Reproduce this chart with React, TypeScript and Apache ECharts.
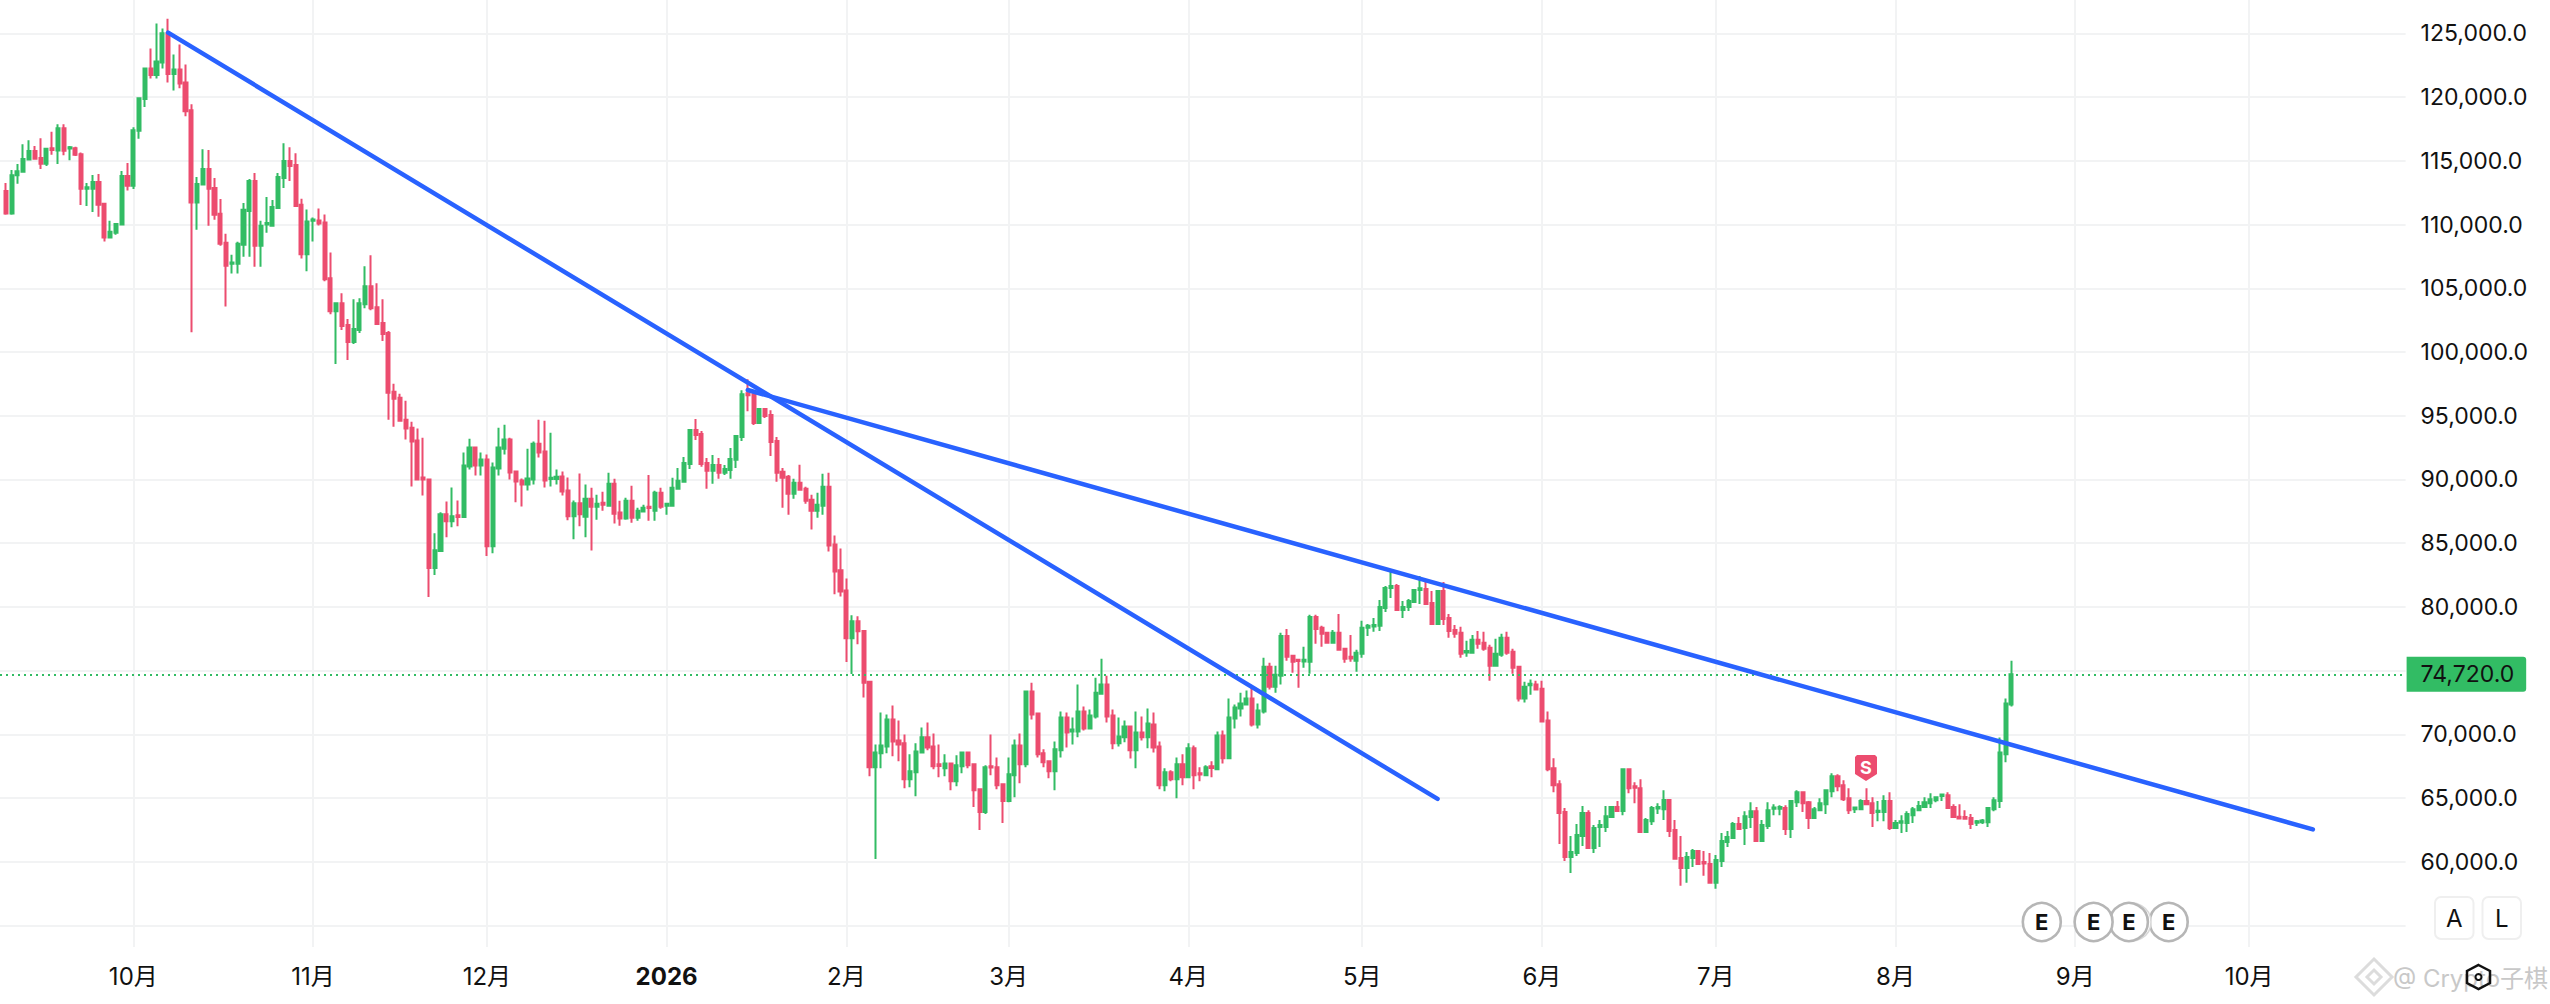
import React, { useEffect, useRef } from "react";
import * as echarts from "echarts";

// Rows are [open, close, low, high]; the first row is 2025-09-09.
const sep2025 = [
[112630,110860,110760,113260],[110860,113860,110760,114270],[113860,114170,113200,114740],[114140,115130,114140,116300],[115110,115760,115110,116620],
[115760,115160,115160,116150],[115210,114770,114350,116770],[114770,115940,114590,115990],[115990,115840,115470,117270],[115810,117550,114740,117870],
[117550,115780,115440,117870],[115970,116070,115050,116150],[115990,115470,115370,116100],[115520,112810,111540,115650],[112810,112920,111460,113260],
[112810,113330,110990,113880],[113330,111560,110600,113960],[111620,108990,108670,111620],[108990,109430,108990,110290],[109350,110050,109190,110050],
[110000,113800,110000,114190],[113800,113050,112660,114820],
];
const oct2025 = [
[113050,117400,112790,117630],[117350,119900,116720,119900],[119840,122240,119220,122320],[122240,121720,121460,123800],[121720,122790,121460,125760],
[122710,125000,122240,125370],[125000,121800,121150,126150],[121800,122160,120520,123330],[122160,121070,120680,124120],[121150,118880,118490,122550],
[118960,111720,101540,119430],[111720,113180,109590,113730],[113130,114350,113130,115910],[114350,112810,109900,115840],[112870,110760,110370,113650],
[110840,108490,108340,112010],[108570,106770,103570,109270],[106930,107030,106150,107630],[106930,108490,106150,108650],[108410,111150,107480,111690],
[111070,113410,107480,113570],[113410,108340,106690,114040],[108340,109900,106690,110290],[110000,110110,109350,112160],[109900,111380,109820,111930],
[111300,113730,111230,114040],[113650,114980,112870,116380],[114980,114590,113410,116070],[114660,111460,111380,115600],[111560,107660,107340,112030],
[107660,110230,106330,111170],
];
const nov2025 = [
[110290,110390,108670,110550],[110310,110080,109920,111250],[110160,105700,105550,110780],[105780,103200,102970,107810],[103200,103830,99060,103910],
[103830,102030,101720,104610],[102110,100780,99380,102580],[100780,101800,100630,104140],[101720,103830,101490,104220],[103750,105160,103440,106720],
[105160,103440,103280,107580],[103520,102190,102110,105390],[102270,101410,100860,104140],[101490,96800,94690,101640],[96880,96330,94140,97500],
[96410,94610,94530,96720],[94690,93990,93130,96170],[94060,92970,89450,94530],[93050,90000,90000,93990],[90160,90000,88750,93280],
[90000,83050,80780,90080],[83050,84450,82500,85780],[84380,87270,84380,87420],[87270,86720,85470,88280],[86720,87110,86250,89380],
[87190,87060,86330,88360],[87060,91100,87060,92110],[91020,92500,90780,93200],[92500,91100,90310,92500],[91100,91560,90310,92110],
];
const dec2025 = [
[91560,84770,83990,91950],[84770,90940,84220,91330],[90860,92500,90310,94060],[92420,93130,91950,94300],[93130,90550,90000,93280],
[90630,89850,88210,90630],[89920,89610,87890,90080],[89610,90080,89140,92420],[90000,92810,89610,92970],[92810,92110,91720,94690],
[92190,89920,89380,94610],[90030,90130,89450,93670],[90030,90210,89610,90780],[90240,89060,88750,90630],[89140,87110,86800,90160],
[87110,88130,85310,88360],[88130,87270,86330,90470],[87080,88490,85470,89610],[88490,87860,84430,89350],[87860,88100,86850,88800],
[88180,88020,87550,89040],[87940,89660,87860,90520],[89660,87320,86540,90050],[87400,86930,86380,88340],[86930,88340,86850,88570],
[88340,87000,86610,89500],[87000,87550,86770,87790],[87480,87790,87400,88020],[87860,87760,86770,90360],[87550,88960,86770,89110],
[88960,87860,87710,89350],
];
const jan2026 = [
[87940,88100,87240,88100],[87940,89350,87860,90130],[89270,89900,89190,90910],[89820,91300,89820,91770],[91220,93880,90830,93960],
[93880,93490,93100,94740],[93570,91220,90990,93800],[91300,90680,89270,91690],[90680,91140,89660,91930],[91140,90520,90050,91690],
[90520,90830,90360,91140],[90750,91610,90050,92470],[91540,93410,90910,93410],[93330,96690,93020,97000],[96770,96610,95360,97860],
[96690,94430,94270,97000],[94430,95520,94430,95600],[95520,94970,94820,95520],[95050,92940,91850,95440],[93020,90520,89820,93330],
[90600,90130,87790,90910],[90210,88880,87240,90360],[88880,89740,88490,90050],[89740,89190,89110,91150],[89270,88340,88100,89430],
[88410,87550,86070,88800],[87550,88020,87000,88960],[87940,89430,87240,90440],[89430,84820,84350,90520],[84900,82790,80990,85600],
[82870,81220,80830,84580],
];
const feb2026 = [
[81300,77550,75680,82240],[77550,78880,74740,79350],[78880,78100,77080,79270],[78120,74060,72890,78180],[74140,67420,66720,74220],
[67420,68590,60230,69220],[68520,69140,67340,71720],[69060,71170,68520,71560],[71170,69450,68280,72270],[69530,69220,67890,71090],
[69300,66480,65780,70000],[66480,67110,65860,68440],[67030,68670,65160,69300],[68590,69770,68520,70550],[69770,68980,68750,70940],
[69060,67500,67270,70080],[67660,67530,66640,69220],[67340,67730,66720,68440],[67730,66330,65630,67730],[66330,67580,65940,68360],
[67500,68590,66950,68670],[68590,67580,67340,68670],[67660,65630,64300,67730],[65700,63910,62500,65700],[63910,67420,63750,67580],
[67500,67400,66800,70000],[67420,66020,65700,68200],[66100,64770,63050,66170],
];
const mar2026 = [
[64770,66880,64690,68200],[66800,69140,65080,69610],[69140,67660,66170,70080],[67660,73360,67420,73440],[73360,71560,71170,74060],
[71640,68440,68200,71640],[68520,67810,67420,68830],[67890,67110,66560,67890],[67110,68830,65630,69450],[68750,71330,68200,71800],
[71330,70160,68980,71720],[70230,70390,69220,71330],[70230,71800,69770,73910],[71800,70470,70310,72190],[70470,71480,70470,71950],
[71410,73280,71250,74450],[73200,73910,73120,75940],[73910,71410,70940,74610],[71480,69300,68830,71950],[69300,69840,69060,71330],
[69770,70620,69380,71090],[70620,68750,68120,70620],[68750,70160,67340,71800],[70160,69770,69530,71410],[69770,70860,68910,72030],
[70780,68980,68590,71720],[69060,66020,65700,69450],[66020,67030,65550,67340],[67030,66480,66330,67190],[66480,67660,65000,68200],
[67660,66640,66020,68440],
];
const apr2026 = [
[66640,68910,66640,69300],[68910,66800,65700,69140],[66950,66850,66330,67420],[66800,67420,66800,67580],[67500,67370,66640,67890],
[67270,69920,67190,70230],[69920,68130,67730,70310],[68130,71330,68050,72810],[71250,72110,70470,72340],[72030,72420,71410,73280],
[72340,72810,72340,73440],[72810,70780,70630,73750],[70780,71870,70470,72420],[71800,75310,71640,76020],[75310,73750,73520,75620],
[73750,74690,73280,75390],[74610,77730,73910,77970],[77730,76090,75780,78280],[76170,75700,74840,76250],[75860,75760,73670,75860],
[75730,75860,75230,76880],[75700,79220,74770,79380],[79220,78280,77110,79380],[78360,77890,76880,78520],[77970,77190,77190,77970],
[77190,77970,77110,78200],[77970,76640,76560,79450],[76720,75940,75620,76720],[76090,75960,75700,77810],[75780,76410,74920,76640],
];
const may2026 = [
[76330,78360,76020,78910],[78360,78520,77730,78670],[78460,78590,78050,79140],[78520,80000,78120,80550],[79920,81480,79610,81640],
[81480,81640,80700,82810],[81640,79760,79690,81800],[79760,80000,79140,80470],[80000,80470,79690,80620],[80390,81330,80390,81410],
[81330,81460,80230,82420],[81410,80230,80150,82030],[80310,78670,78670,81250],[78670,81250,78670,81250],[81250,79060,78590,81950],
[79140,78120,77580,79450],[78200,77890,77580,78590],[77970,76330,76020,78440],[76430,76540,76090,77340],[76400,77420,76400,77810],
[77420,77110,76720,78120],[77190,76720,76560,78050],[76800,75390,74220,77030],[75390,76330,75310,77500],[76250,77580,76090,77890],
[77580,76400,76250,78050],[76480,75230,74770,76720],[75310,72810,72580,75390],[72810,73750,72500,74140],[73850,73980,73120,74300],
[73910,73520,73520,74220],
];
const jun2026 = [
[73590,71020,71020,74220],[71100,67270,67110,71800],[67340,66020,65470,68130],[66090,63830,61410,66410],[63910,60390,60080,64220],
[60390,60780,59140,62030],[60700,62110,60470,62970],[62030,63830,61250,64380],[63830,61090,61090,64060],[61090,62660,60700,62890],
[62740,62890,61170,63280],[62740,63590,62340,64380],[63520,64300,63440,64380],[64300,63990,63910,64770],[63990,67270,63670,67340],
[67270,65780,65390,67270],[65940,65810,64610,66250],[65780,62340,62340,66480],[62340,63280,62260,63440],[63200,64220,62890,64380],
[64190,64300,63750,64610],[64140,64850,63280,65620],[64850,62420,61950,64920],[62500,60240,60240,63280],[60310,59530,58130,62030],
[59530,60390,58360,60780],[60310,60860,59610,61020],[60860,59840,59770,60860],[60000,59870,58910,60860],[59840,58360,58280,60700],
];
const jul2026 = [
[58360,60160,57890,60550],[60080,61640,59610,62270],[61560,61950,61170,62420],[61870,62970,61870,63130],[62970,62580,62500,63520],
[62660,63590,61330,63980],[63520,63980,62660,64690],[63980,61640,61560,64300],[61640,62890,61640,63280],[62810,64060,62580,64690],
[64170,64270,63670,64530],[64170,64300,63670,64450],[64220,62580,62110,64450],[62580,64770,61870,64840],[64690,65470,64300,65620],
[65470,64610,63910,65470],[64690,63440,62580,64770],[63440,64140,63360,64300],[64060,64610,64060,65000],[64530,65620,63750,65700],
[65550,66720,65080,66950],[66720,65940,65550,66870],[66020,64920,64770,66410],[65000,64060,63750,65780],[64140,64270,63830,64300],
[64140,64770,64140,64920],[64770,64530,64450,65780],[64610,63830,62730,65080],[63910,64010,63200,64770],[63910,64770,63200,65230],
[64770,62660,62500,65470],
];
const aug2026 = [
[62660,63050,62660,63280],[63070,63200,62260,63670],[63050,63750,62340,63980],[63670,64140,63050,64300],[64060,64380,63980,64770],
[64300,64690,64300,65080],[64610,64920,64220,65390],[64840,65080,64690,65160],[65180,65290,64770,65310],[65230,64220,64220,65470],
[64300,63520,63440,64530],[63540,63410,63360,64530],[63520,63380,63360,64060],[63440,62970,62580,63750],[63070,63200,62810,63280],
[63120,63250,62970,63360],[63120,64220,62730,64220],[64140,64840,63980,65080],[64770,68590,64220,69760],[68440,72420,67810,72810],
[72340,74720,72190,75780],
];

const lastPrice = 74720;
const firstDay = "2025-09-08";
const dayCount = 416;
const priceGridValues = [55000, 60000, 65000, 70000, 75000, 80000, 85000, 90000, 95000, 100000, 105000, 110000, 115000, 120000, 125000];
const priceLabelValues = [60000, 65000, 70000, 75000, 80000, 85000, 90000, 95000, 100000, 105000, 110000, 115000, 120000, 125000];
const monthLabels: Record<string, string> = {
  "2025-10-01": "10月", "2025-11-01": "11月", "2025-12-01": "12月", "2026-01-01": "2026",
  "2026-02-01": "2月", "2026-03-01": "3月", "2026-04-01": "4月", "2026-05-01": "5月",
  "2026-06-01": "6月", "2026-07-01": "7月", "2026-08-01": "8月", "2026-09-01": "9月", "2026-10-01": "10月",
};
const trendOne: [string, number][] = [["2025-10-07", 125050], ["2026-05-14", 64940]];
const trendTwo: [string, number][] = [["2026-01-15", 97020], ["2026-10-12", 62550]];
const earningsCentres = [2041.8, 2093.6, 2128.9, 2168.7];

const GREEN = "#32BC64";
const RED = "#EC4C6F";
const BLUE = "#2962FF";
const FONT = 'Inter, "Noto Sans CJK SC", sans-serif';

const days: string[] = [];
for (let i = 0; i < dayCount; i++) {
  const d = new Date(Date.parse(firstDay + "T00:00:00Z") + i * 86400000);
  days.push(d.toISOString().slice(0, 10));
}
const rows = [...sep2025, ...oct2025, ...nov2025, ...dec2025, ...jan2026, ...feb2026, ...mar2026, ...apr2026, ...may2026, ...jun2026, ...jul2026, ...aug2026];
const candleData: any[] = days.map((_, i) => (i >= 1 && i <= rows.length ? rows[i - 1] : "-"));
const isMonthTick = (_: number, v: string) => v in monthLabels;

function earnings(cx: number) {
  return [
    { type: "circle", shape: { cx, cy: 922, r: 19 }, style: { fill: "#fff", stroke: "#b6b6b6", lineWidth: 2.6 }, z: 50 },
    { type: "text", x: cx, y: 922, style: { text: "E", fill: "#111", font: `bold 22px ${FONT}`, align: "center", verticalAlign: "middle" }, z: 51 },
  ];
}
function button(x: number, label: string) {
  return [
    { type: "rect", shape: { x, y: 897, width: 38.5, height: 42, r: 6 }, style: { fill: "#fff", stroke: "#efefef", lineWidth: 2 }, z: 50 },
    { type: "text", x: x + 19.2, y: 918, style: { text: label, fill: "#111", font: `24px ${FONT}`, align: "center", verticalAlign: "middle" }, z: 51 },
  ];
}

export default function App() {
  const ref = useRef<HTMLDivElement>(null);
  useEffect(() => {
    const chart = echarts.init(ref.current!, null, { renderer: "svg" });
    chart.setOption({
      animation: false,
      backgroundColor: "#fff",
      grid: { left: -3.5, top: 0, width: 2409.1, height: 947 },
      xAxis: {
        type: "category",
        data: days,
        boundaryGap: false,
        axisLine: { show: false },
        axisTick: { show: false },
        splitLine: { show: true, interval: isMonthTick, lineStyle: { color: "#F2F3F4", width: 2 } },
        axisLabel: {
          interval: isMonthTick,
          margin: 17,
          color: "#111",
          fontFamily: FONT,
          fontSize: 24,
          formatter: (v: string) => (monthLabels[v] === "2026" ? "{b|2026}" : monthLabels[v] || ""),
          rich: { b: { fontWeight: "bold", fontSize: 24, fontFamily: FONT, color: "#111" } },
        },
      },
      yAxis: {
        type: "value",
        position: "right",
        min: 53326,
        max: 127612,
        axisLine: { show: false },
        axisTick: { show: false, customValues: priceGridValues },
        splitLine: { show: true, lineStyle: { color: "#F2F3F4", width: 2 } },
        axisLabel: {
          customValues: priceLabelValues,
          margin: 15,
          color: "#111",
          fontFamily: FONT,
          fontSize: 23,
          formatter: (v: number) => v.toLocaleString("en-US", { minimumFractionDigits: 1, maximumFractionDigits: 1 }),
        },
      },
      series: [
        {
          type: "candlestick",
          data: candleData,
          barWidth: 3.6,
          itemStyle: { color: GREEN, color0: RED, borderColor: GREEN, borderColor0: RED, borderWidth: 2 },
          markLine: {
            silent: true,
            symbol: "none",
            animation: false,
            data: [{ yAxis: lastPrice }],
            lineStyle: { color: GREEN, type: [2, 4], width: 2 },
            label: {
              show: true,
              position: "end",
              distance: 1,
              formatter: () => lastPrice.toLocaleString("en-US", { minimumFractionDigits: 1, maximumFractionDigits: 1 }),
              backgroundColor: GREEN,
              color: "#111",
              fontFamily: FONT,
              fontSize: 23,
              padding: [6, 12, 6, 14],
              borderRadius: [0, 3, 3, 0],
            },
          },
        },
        { type: "line", data: trendOne, symbol: "none", lineStyle: { color: BLUE, width: 4.5, cap: "round" }, z: 5 },
        { type: "line", data: trendTwo, symbol: "none", lineStyle: { color: BLUE, width: 4.5, cap: "round" }, z: 5 },
      ],
      graphic: [
        { type: "polygon", shape: { points: [[1857, 755], [1875, 755], [1877, 757], [1877, 774], [1866, 781], [1855, 774], [1855, 757]] }, style: { fill: RED }, z: 50 },
        { type: "text", x: 1866, y: 767, style: { text: "S", fill: "#fff", font: `bold 18px ${FONT}`, align: "center", verticalAlign: "middle" }, z: 51 },
        ...earnings(earningsCentres[3]),
        { type: "circle", shape: { cx: 2132, cy: 922, r: 19 }, style: { fill: "#fff", stroke: "#d8d8d8", lineWidth: 1.5 }, z: 50 },
        ...earnings(earningsCentres[2]),
        ...earnings(earningsCentres[1]),
        ...earnings(earningsCentres[0]),
        ...button(2435, "A"),
        ...button(2482.5, "L"),
        { type: "polygon", shape: { points: [[2374, 959], [2392, 977], [2374, 995], [2356, 977]] }, style: { fill: "none", stroke: "#dcdcdc", lineWidth: 3 }, z: 40 },
        { type: "polygon", shape: { points: [[2374, 970], [2381, 977], [2374, 984], [2367, 977]] }, style: { fill: "none", stroke: "#dcdcdc", lineWidth: 3 }, z: 40 },
        { type: "text", x: 2393, y: 978, style: { text: "@ Crypto子棋", fill: "#c8c8c8", font: `24px ${FONT}`, align: "left", verticalAlign: "middle" }, z: 40 },
        { type: "polygon", shape: { points: [[2478.5, 965], [2490, 971], [2490, 983], [2478.5, 989], [2467, 983], [2467, 971]] }, style: { fill: "none", stroke: "#111", lineWidth: 2.5 }, z: 45 },
        { type: "circle", shape: { cx: 2478.5, cy: 977, r: 3 }, style: { fill: "none", stroke: "#111", lineWidth: 2 }, z: 45 },
      ],
    });
    return () => chart.dispose();
  }, []);
  return <div ref={ref} style={{ position: "fixed", left: 0, top: 0, width: 2550, height: 1004 }} />;
}
